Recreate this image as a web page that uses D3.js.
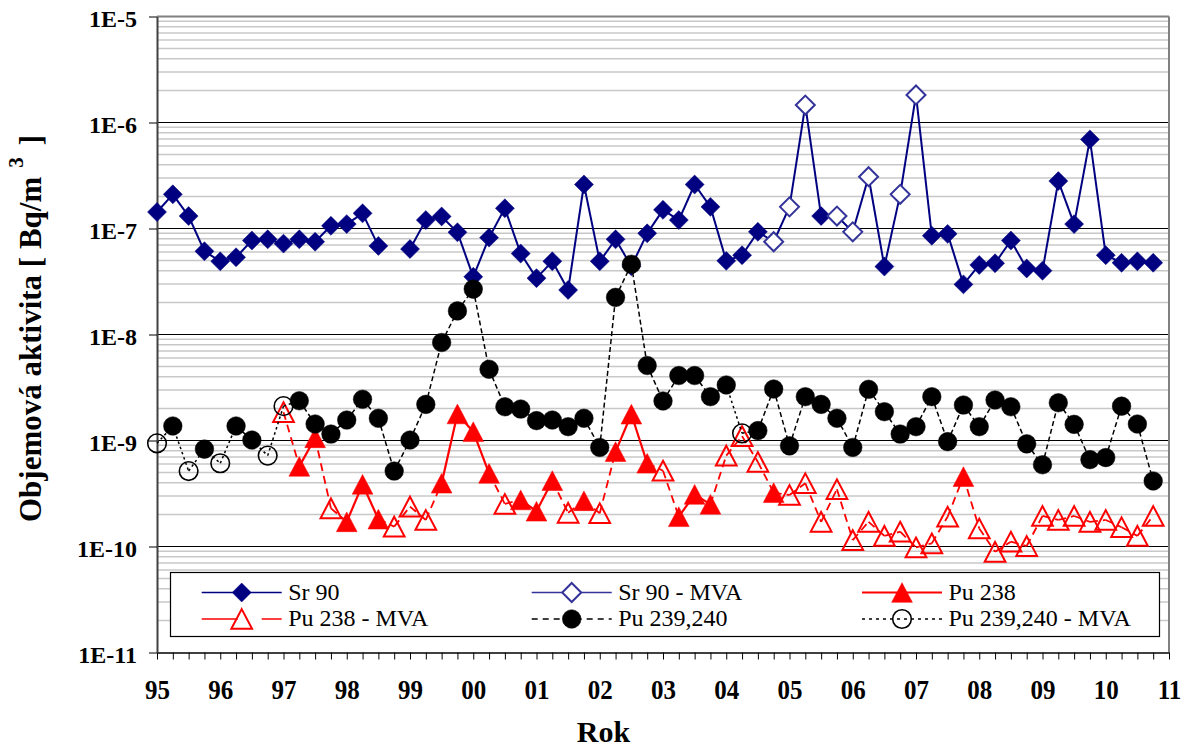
<!DOCTYPE html>
<html>
<head>
<meta charset="utf-8">
<script src="https://cdn.jsdelivr.net/npm/d3@7"></script>
<style>
  html, body { margin: 0; padding: 0; background: #fff; }
  svg { display: block; font-family: "Liberation Serif", "Times New Roman", serif; }
</style>
</head>
<body>
<svg id="chart" width="1190" height="749"></svg>
<script>
// ---- Data: quarterly volume activity [Bq/m3], 1995 Q1 .. 2010 Q4 ----
const firstYear = 1995;
const lastYear = 2011;
const periods = d3.range(64).map(i => firstYear + i / 4);   // quarter positions on the time axis

const yearTicks = d3.range(firstYear, lastYear + 1);
const yearLabels = ["95","96","97","98","99","00","01","02","03","04","05","06","07","08","09","10","11"];
const decadeTicks = [1e-11, 1e-10, 1e-9, 1e-8, 1e-7, 1e-6, 1e-5];
const decadeLabels = ["1E-11","1E-10","1E-9","1E-8","1E-7","1E-6","1E-5"];

const sr90 = [
  1.43e-7, 2.1e-7, 1.31e-7, 6.1e-8, 4.9e-8, 5.35e-8, 7.7e-8, 7.9e-8,
  7.2e-8, 7.9e-8, 7.5e-8, 1.06e-7, 1.1e-7, 1.39e-7, 6.85e-8, null,
  6.4e-8, 1.2e-7, 1.3e-7, 9.2e-8, 3.5e-8, 8.2e-8, 1.55e-7, 5.8e-8,
  3.4e-8, 4.9e-8, 2.63e-8, 2.6e-7, 4.9e-8, 7.9e-8, 4.4e-8, 9.0e-8,
  1.5e-7, 1.2e-7, 2.6e-7, 1.6e-7, 4.95e-8, 5.6e-8, 9.3e-8, null,
  null, null, 1.31e-7, null, null, null, 4.37e-8, null,
  null, 8.55e-8, 8.9e-8, 2.97e-8, 4.53e-8, 4.7e-8, 7.7e-8, 4.2e-8,
  4.0e-8, 2.8e-7, 1.1e-7, 6.93e-7, 5.6e-8, 4.75e-8, 4.9e-8, 4.75e-8
];
const sr90Mva = [
  null, null, null, null, null, null, null, null,
  null, null, null, null, null, null, null, null,
  null, null, null, null, null, null, null, null,
  null, null, null, null, null, null, null, null,
  null, null, null, null, null, null, null, 7.5e-8,
  1.6e-7, 1.46e-6, null, 1.31e-7, 9.3e-8, 3.08e-7, null, 2.1e-7,
  1.82e-6, null, null, null, null, null, null, null,
  null, null, null, null, null, null, null, null
];
const pu238 = [
  null, null, null, null, null, null, null, null,
  null, 5.7e-10, 1.06e-9, null, 1.71e-10, 3.86e-10, 1.81e-10, null,
  null, null, 3.95e-10, 1.78e-9, 1.21e-9, 4.9e-10, null, 2.75e-10,
  2.15e-10, 4.18e-10, null, 2.7e-10, null, 7.85e-10, 1.77e-9, 6.1e-10,
  null, 1.91e-10, 3.1e-10, 2.5e-10, null, null, null, 3.22e-10,
  null, null, null, null, null, null, null, null,
  null, null, null, 4.56e-10, null, null, null, null,
  null, null, null, null, null, null, null, null
];
const pu238Mva = [
  null, null, null, null, null, null, null, null,
  1.85e-9, null, null, 2.29e-10, null, null, null, 1.54e-10,
  2.38e-10, 1.78e-10, null, null, null, null, 2.52e-10, null,
  null, null, 2.08e-10, null, 2.06e-10, null, null, null,
  5.19e-10, null, null, null, 7.2e-10, 1.1e-9, 6.27e-10, null,
  3.06e-10, 3.95e-10, 1.71e-10, 3.47e-10, 1.15e-10, 1.71e-10, 1.26e-10, 1.38e-10,
  9.8e-11, 1.07e-10, 1.91e-10, null, 1.48e-10, 8.9e-11, 1.11e-10, 1.01e-10,
  1.94e-10, 1.78e-10, 1.94e-10, 1.71e-10, 1.78e-10, 1.52e-10, 1.26e-10, 1.94e-10
];
const pu239 = [
  null, 1.37e-9, null, 8.3e-10, null, 1.37e-9, 1.01e-9, null,
  null, 2.37e-9, 1.43e-9, 1.15e-9, 1.56e-9, 2.45e-9, 1.62e-9, 5.15e-10,
  1.01e-9, 2.19e-9, 8.4e-9, 1.67e-8, 2.68e-8, 4.7e-9, 2.08e-9, 1.98e-9,
  1.54e-9, 1.56e-9, 1.35e-9, 1.62e-9, 8.6e-10, 2.24e-8, 4.6e-8, 5.1e-9,
  2.36e-9, 4.1e-9, 4.1e-9, 2.59e-9, 3.34e-9, null, 1.24e-9, 3.06e-9,
  8.9e-10, 2.59e-9, 2.19e-9, 1.62e-9, 8.6e-10, 3.04e-9, 1.87e-9, 1.15e-9,
  1.35e-9, 2.59e-9, 9.75e-10, 2.16e-9, 1.35e-9, 2.41e-9, 2.08e-9, 9.3e-10,
  5.9e-10, 2.27e-9, 1.42e-9, 6.6e-10, 6.9e-10, 2.11e-9, 1.43e-9, 4.15e-10
];
const pu239Mva = [
  9.4e-10, null, 5.15e-10, null, 6.1e-10, null, null, 7.2e-10,
  2.11e-9, null, null, null, null, null, null, null,
  null, null, null, null, null, null, null, null,
  null, null, null, null, null, null, null, null,
  null, null, null, null, null, 1.17e-9, null, null,
  null, null, null, null, null, null, null, null,
  null, null, null, null, null, null, null, null,
  null, null, null, null, null, null, null, null
];

// ---- Layout ----
const plot = { left: 157, right: 1169, top: 16.5, bottom: 652.5 };
const svg = d3.select("#chart");

const x = d3.scaleLinear().domain([firstYear, lastYear]).range([plot.left, plot.right]);
const y = d3.scaleLog().domain([1e-11, 1e-5]).range([plot.bottom, plot.top]);

// ---- Gridlines ----
const grid = svg.append("g");
const minorVals = [];
decadeTicks.slice(0, -1).forEach(d => { for (let k = 2; k <= 9; k++) minorVals.push(d * k); });
grid.selectAll("line.minor").data(minorVals).join("line")
  .attr("x1", plot.left).attr("x2", plot.right)
  .attr("y1", d => y(d)).attr("y2", d => y(d))
  .attr("stroke", "#c8c8c8").attr("stroke-width", 1.5);
grid.selectAll("line.major").data(decadeTicks.slice(1, -1)).join("line")
  .attr("x1", plot.left).attr("x2", plot.right)
  .attr("y1", d => y(d)).attr("y2", d => y(d))
  .attr("stroke", "#000").attr("stroke-width", 1);
// frame top / right
grid.append("line").attr("x1", plot.left).attr("x2", plot.right)
  .attr("y1", y(1e-5)).attr("y2", y(1e-5)).attr("stroke", "#808080").attr("stroke-width", 2);
grid.append("line").attr("x1", plot.right).attr("x2", plot.right)
  .attr("y1", plot.top).attr("y2", plot.bottom).attr("stroke", "#808080").attr("stroke-width", 2);

// ---- Axes ----
const xAxis = d3.axisBottom(x)
  .tickValues(periods.concat([lastYear]))
  .tickSize(7).tickSizeOuter(0).tickPadding(18.3)
  .tickFormat(d => {
    const i = yearTicks.indexOf(d);
    return i >= 0 ? yearLabels[i] : "";
  });
const gx = svg.append("g").attr("transform", `translate(0,${plot.bottom})`).call(xAxis);
gx.select(".domain").attr("stroke", "#404040").attr("stroke-width", 2);
gx.selectAll(".tick line").attr("stroke", "#000").attr("stroke-width", 1);
gx.selectAll(".tick text").attr("font-family", "Liberation Serif").attr("font-weight", "bold")
  .attr("font-size", 25).attr("fill", "#000").attr("transform", "scale(1,1.08)");

const yAxis = d3.axisLeft(y)
  .tickValues(decadeTicks)
  .tickSize(8).tickSizeOuter(0).tickPadding(12)
  .tickFormat(d => decadeLabels[decadeTicks.indexOf(d)]);
const gy = svg.append("g").attr("transform", `translate(${plot.left},0)`).call(yAxis);
gy.select(".domain").attr("stroke", "#404040").attr("stroke-width", 2);
gy.selectAll(".tick line").attr("stroke", "#000").attr("stroke-width", 1);
gy.selectAll(".tick text").attr("font-family", "Liberation Serif").attr("font-weight", "bold")
  .attr("font-size", 24).attr("fill", "#000").attr("dy", "0.4em");

// ---- Axis titles ----
svg.append("text")
  .attr("x", 603.5).attr("y", 741.5)
  .attr("text-anchor", "middle")
  .attr("font-weight", "bold").attr("font-size", 30)
  .text("Rok");

const yTitle = svg.append("text")
  .attr("transform", "translate(41,522) rotate(-90)")
  .attr("font-weight", "bold").attr("font-size", 31);
yTitle.append("tspan").text("Objemová aktivita [ Bq/m");
yTitle.append("tspan").attr("dx", 9).attr("dy", -18).attr("font-size", 21).text("3");
yTitle.append("tspan").attr("dx", 12).attr("dy", 18).text("]");

// ---- Marker shapes ----
const triangleShape = {
  draw(ctx, size) {
    const w = Math.sqrt(size * 2.1), h = w * 0.95;
    ctx.moveTo(0, -h / 2); ctx.lineTo(w / 2, h / 2); ctx.lineTo(-w / 2, h / 2); ctx.closePath();
  }
};
const diamondShape = {
  draw(ctx, size) {
    const r = Math.sqrt(size / 2);
    ctx.moveTo(0, -r); ctx.lineTo(r, 0); ctx.lineTo(0, r); ctx.lineTo(-r, 0); ctx.closePath();
  }
};
const marker = {
  diamond: d3.symbol(diamondShape, 180),
  triangle: d3.symbol(triangleShape, 205),
  circle: d3.symbol(d3.symbolCircle, 272)
};

const line = d3.line().x(d => x(d.t)).y(d => y(d.v));

function drawSeries(filled, mva, opt) {
  const g = svg.append("g");
  const merged = filled.map((v, i) => v != null ? v : mva[i]);
  // connecting segments
  for (let i = 0; i < merged.length - 1; i++) {
    if (merged[i] == null || merged[i + 1] == null) continue;
    const solid = filled[i] != null && filled[i + 1] != null;
    const st = solid ? opt.solid : opt.mvaLine;
    g.append("path")
      .attr("d", line([{ t: periods[i], v: merged[i] }, { t: periods[i + 1], v: merged[i + 1] }]))
      .attr("fill", "none").attr("stroke", st.color).attr("stroke-width", st.width)
      .attr("stroke-dasharray", st.dash || null);
  }
  // measured markers
  g.selectAll("path.f").data(filled.map((v, i) => ({ t: periods[i], v })).filter(d => d.v != null))
    .join("path").attr("class", "f")
    .attr("d", marker[opt.shape])
    .attr("transform", d => `translate(${x(d.t)},${y(d.v)})`)
    .attr("fill", opt.color).attr("stroke", opt.color).attr("stroke-width", 0.5);
  // MVA markers (open)
  g.selectAll("path.m").data(mva.map((v, i) => ({ t: periods[i], v })).filter(d => d.v != null))
    .join("path").attr("class", "m")
    .attr("d", marker[opt.shape])
    .attr("transform", d => `translate(${x(d.t)},${y(d.v)})`)
    .attr("fill", opt.openFill).attr("stroke", opt.openStroke).attr("stroke-width", opt.openWidth);
}

drawSeries(sr90, sr90Mva, {
  shape: "diamond", color: "#000080",
  openFill: "#fff", openStroke: "#333399", openWidth: 2,
  solid: { color: "#000080", width: 2 },
  mvaLine: { color: "#000080", width: 2 }
});
drawSeries(pu238, pu238Mva, {
  shape: "triangle", color: "#ff0000",
  openFill: "none", openStroke: "#ff0000", openWidth: 2,
  solid: { color: "#ff0000", width: 2.2 },
  mvaLine: { color: "#ff0000", width: 1.8, dash: "8,5" }
});
drawSeries(pu239, pu239Mva, {
  shape: "circle", color: "#000",
  openFill: "none", openStroke: "#000", openWidth: 1.6,
  solid: { color: "#000", width: 1.5, dash: "5,3" },
  mvaLine: { color: "#000", width: 1.5, dash: "2.5,3" }
});

// ---- Legend ----
const legend = svg.append("g");
legend.append("rect")
  .attr("x", 170.5).attr("y", 572.5).attr("width", 989).attr("height", 64)
  .attr("fill", "#fff").attr("stroke", "#000").attr("stroke-width", 1.2);

const legendCols = [201.7, 531.7, 862];
const legendRows = [592.5, 619];
const legendItems = [
  { name: "Sr 90", col: 0, row: 0, shape: "diamond", fill: "#000080", stroke: "#000080", sw: 0.5,
    line: { color: "#000080", width: 1.3 } },
  { name: "Sr 90 - MVA", col: 1, row: 0, shape: "diamond", fill: "#fff", stroke: "#333399", sw: 2,
    line: { color: "#333399", width: 1.3 } },
  { name: "Pu 238", col: 2, row: 0, shape: "triangle", fill: "#ff0000", stroke: "#ff0000", sw: 0.5,
    line: { color: "#ff0000", width: 2.2 } },
  { name: "Pu 238 - MVA", col: 0, row: 1, shape: "triangle", fill: "none", stroke: "#ff0000", sw: 2,
    line: { color: "#ff0000", width: 1.3, dash: "36,24" } },
  { name: "Pu 239,240", col: 1, row: 1, shape: "circle", fill: "#000", stroke: "#000", sw: 0.5,
    line: { color: "#000", width: 1.3, dash: "6,5" } },
  { name: "Pu 239,240 - MVA", col: 2, row: 1, shape: "circle", fill: "none", stroke: "#000", sw: 1.6,
    line: { color: "#000", width: 1.5, dash: "3,4" } }
];
legendItems.forEach(it => {
  const x0 = legendCols[it.col], yy = legendRows[it.row];
  legend.append("line")
    .attr("x1", x0).attr("x2", x0 + 80).attr("y1", yy).attr("y2", yy)
    .attr("stroke", it.line.color).attr("stroke-width", it.line.width)
    .attr("stroke-dasharray", it.line.dash || null);
  legend.append("path")
    .attr("d", marker[it.shape])
    .attr("transform", `translate(${x0 + 40},${yy})`)
    .attr("fill", it.fill).attr("stroke", it.stroke).attr("stroke-width", it.sw);
  legend.append("text")
    .attr("x", x0 + 86.5).attr("y", it.row === 0 ? 600 : 625.5)
    .attr("font-size", 24).attr("fill", "#000")
    .text(it.name);
});
</script>
</body>
</html>
